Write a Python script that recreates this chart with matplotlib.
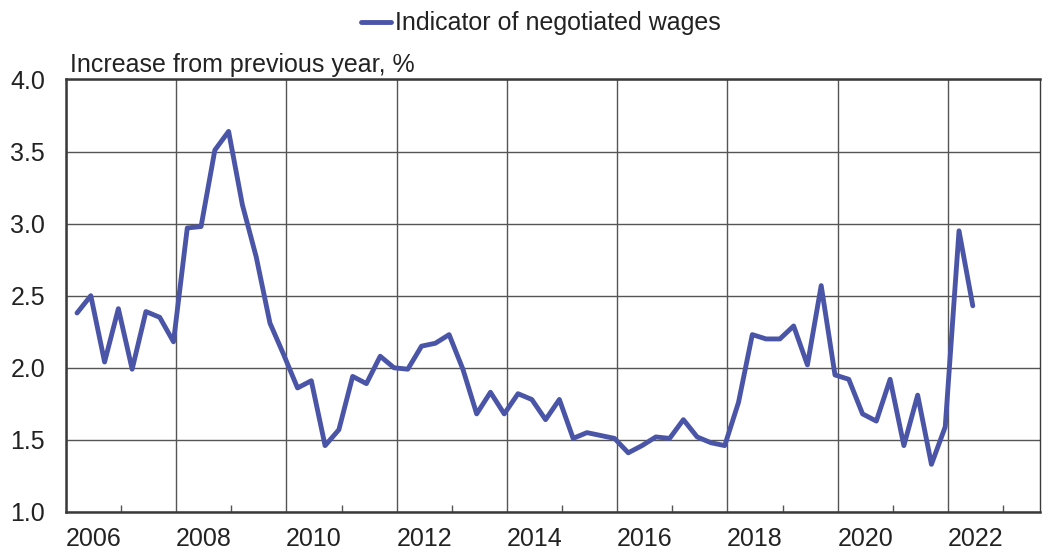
import matplotlib.pyplot as plt
import numpy as np

plt.rcParams['font.family'] = ['Liberation Sans', 'DejaVu Sans']

# quarterly data, 2006 Q1 .. 2022 Q2
start_year = 2006
wages = [2.38, 2.50, 2.04, 2.41,
         1.99, 2.39, 2.35, 2.18,
         2.97, 2.98, 3.51, 3.64,
         3.13, 2.77, 2.31, 2.09,
         1.86, 1.91, 1.46, 1.57,
         1.94, 1.89, 2.08, 2.00,
         1.99, 2.15, 2.17, 2.23,
         1.99, 1.68, 1.83, 1.68,
         1.82, 1.78, 1.64, 1.78,
         1.51, 1.55, 1.53, 1.51,
         1.41, 1.46, 1.52, 1.51,
         1.64, 1.52, 1.48, 1.46,
         1.76, 2.23, 2.20, 2.20,
         2.29, 2.02, 2.57, 1.95,
         1.92, 1.68, 1.63, 1.92,
         1.46, 1.81, 1.33, 1.59,
         2.95, 2.43]
label_years = list(range(2006, 2023, 2))
y_ticks = [1.0, 1.5, 2.0, 2.5, 3.0, 3.5, 4.0]

x = start_year + 0.2 + 0.25 * np.arange(len(wages))

fig = plt.figure(figsize=(10.46, 5.54), dpi=100)
ax = fig.add_axes([0.0631, 0.076, 0.9312, 0.7805])

line_col = '#4b55a8'
grid_col = '#555555'
txt_col = '#222222'
fs = 18

ax.plot(x, wages, color=line_col, lw=3.5, solid_joinstyle='round',
        solid_capstyle='round', label='Indicator of negotiated wages')

ax.set_xlim(2006, 2023.67)
ax.set_ylim(1.0, 4.0)

# gridlines at even years, small ticks at odd years
ax.set_xticks(label_years)
ax.set_xticklabels([])
ax.set_xticks(np.arange(2007, 2024, 2), minor=True)
ax.tick_params(axis='x', which='major', length=0)
ax.tick_params(axis='x', which='minor', direction='in', length=5, width=1, color=grid_col)

ax.set_yticks(y_ticks)
ax.set_yticklabels([f'{v:.1f}' for v in y_ticks])
ax.tick_params(axis='y', length=0, pad=15, labelsize=fs, labelcolor=txt_col)

ax.grid(True, which='major', color=grid_col, lw=1.0)

# year labels centred on each even year
sec = ax.secondary_xaxis('bottom')
sec.set_xticks([y + 0.5 for y in label_years])
sec.set_xticklabels([str(y) for y in label_years])
sec.tick_params(length=0, pad=11, labelsize=fs, labelcolor=txt_col)
sec.spines['bottom'].set_visible(False)

for s in ax.spines.values():
    s.set_color('#3a3a3a')
    s.set_linewidth(1.8)
ax.spines['right'].set_linewidth(1.0)

ax.text(0.004, 1.006, 'Increase from previous year, %', transform=ax.transAxes,
        ha='left', va='bottom', fontsize=fs, color=txt_col)

fig.legend(loc='center', bbox_to_anchor=(0.517, 0.958), frameon=False, fontsize=fs,
           handlelength=1.2, handletextpad=0.15, labelcolor=txt_col)

plt.savefig('out.png', dpi=100)
